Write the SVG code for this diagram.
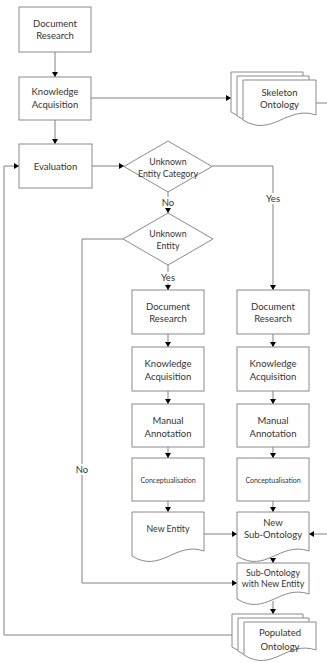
<svg xmlns="http://www.w3.org/2000/svg" width="327" height="663" viewBox="0 0 327 663">
<style>
.box{fill:#fff;stroke:#8a8a8a;stroke-width:1}
.ln{fill:none;stroke:#808080;stroke-width:1}
text{font-family:Lato,"Liberation Sans",sans-serif;font-size:9.5px;fill:#333;text-anchor:middle}
.sm{font-size:7px}
.s9{font-size:8.8px}
.lbl{fill:#fff;stroke:none}
</style>
<defs>
<marker id="ah" markerWidth="6" markerHeight="6" refX="5" refY="3" orient="auto" markerUnits="userSpaceOnUse">
<path d="M0,0 L5,3 L0,6 Z" fill="#000"/>
</marker>
</defs>
<g id="connectors">
<path class="ln" d="M55,52 V77" marker-end="url(#ah)"/>
<path class="ln" d="M91,98 H231" marker-end="url(#ah)"/>
<path class="ln" d="M316,103 H327"/>
<path class="ln" d="M55,120 V144" marker-end="url(#ah)"/>
<path class="ln" d="M92,166 H124" marker-end="url(#ah)"/>
<path class="ln" d="M212,166 H273 V290" marker-end="url(#ah)"/>
<path class="ln" d="M168,192 V213" marker-end="url(#ah)"/>
<path class="ln" d="M168,265 V290" marker-end="url(#ah)"/>
<path class="ln" d="M123,239 H82 V583 H237" marker-end="url(#ah)"/>
<path class="ln" d="M232,635 H4 V166 H19" marker-end="url(#ah)"/>
<path class="ln" d="M168,334 V347" marker-end="url(#ah)"/>
<path class="ln" d="M168,391 V404" marker-end="url(#ah)"/>
<path class="ln" d="M168,447 V458" marker-end="url(#ah)"/>
<path class="ln" d="M168,501 V512" marker-end="url(#ah)"/>
<path class="ln" d="M273,334 V347" marker-end="url(#ah)"/>
<path class="ln" d="M273,391 V404" marker-end="url(#ah)"/>
<path class="ln" d="M273,447 V458" marker-end="url(#ah)"/>
<path class="ln" d="M273,501 V512" marker-end="url(#ah)"/>
<path class="ln" d="M204,534 H237" marker-end="url(#ah)"/>
<path class="ln" d="M327,534 H309" marker-end="url(#ah)"/>
<path class="ln" d="M273,559 V563" marker-end="url(#ah)"/>
<path class="ln" d="M273,601 V614" marker-end="url(#ah)"/>
<rect class="lbl" x="160" y="197" width="16" height="11"/>
<text x="168" y="205.5">No</text>
<rect class="lbl" x="158" y="272" width="20" height="11"/>
<text x="168" y="280.5">Yes</text>
<rect class="lbl" x="263" y="193" width="20" height="11"/>
<text x="273" y="201.5">Yes</text>
<rect class="lbl" x="74" y="464" width="16" height="11"/>
<text x="82" y="472.5">No</text>
</g>
<g id="doc-research-1">
<rect class="box" x="19" y="7" width="72" height="45"/>
<text x="55" y="26.5">Document</text>
<text x="55" y="38.5">Research</text>
</g>
<g id="knowledge-acq-1">
<rect class="box" x="19" y="77" width="72" height="43"/>
<text x="55" y="94.5">Knowledge</text>
<text x="55" y="108">Acquisition</text>
</g>
<g id="skeleton-ontology">
<path class="box" d="M231,72 H303 V107 C274,97 260,130 231,112 Z"/>
<path class="box" d="M237,76 H309 V111 C280,101 266,134 237,116 Z"/>
<path class="box" d="M243,80 H316 V115 C287,105 272,138 243,120 Z"/>
<text x="279.5" y="95.5">Skeleton</text>
<text x="279.5" y="107.5">Ontology</text>
</g>
<g id="evaluation">
<rect class="box" x="19" y="144" width="73" height="44"/>
<text x="55.5" y="169.5">Evaluation</text>
</g>
<g id="unknown-entity-category">
<path class="box" d="M168,141 L212,166.5 L168,192 L124,166.5 Z"/>
<text class="s9" x="168" y="165">Unknown</text>
<text class="s9" x="168" y="176.5">Entity Category</text>
</g>
<g id="unknown-entity">
<path class="box" d="M168,213 L213,239 L168,265 L123,239 Z"/>
<text class="s9" x="168" y="236.5">Unknown</text>
<text class="s9" x="168" y="248.5">Entity</text>
</g>
<g id="doc-research-2">
<rect class="box" x="132" y="290" width="72" height="44"/>
<text x="168" y="309.5">Document</text>
<text x="168" y="321.5">Research</text>
</g>
<g id="knowledge-acq-2">
<rect class="box" x="132" y="347" width="72" height="44"/>
<text x="168" y="366.5">Knowledge</text>
<text x="168" y="379.5">Acquisition</text>
</g>
<g id="manual-annotation-2">
<rect class="box" x="132" y="404" width="72" height="43"/>
<text x="168" y="423.5">Manual</text>
<text x="168" y="436.5">Annotation</text>
</g>
<g id="conceptualisation-2">
<rect class="box" x="132" y="458" width="72" height="43"/>
<text class="sm" x="168" y="482.5">Conceptualisation</text>
</g>
<g id="new-entity">
<path class="box" d="M132,512 H204 V551 C175,541 161,574 132,556 Z"/>
<text class="s9" x="168" y="531.5">New Entity</text>
</g>
<g id="doc-research-3">
<rect class="box" x="237" y="290" width="72" height="44"/>
<text x="273" y="309.5">Document</text>
<text x="273" y="321.5">Research</text>
</g>
<g id="knowledge-acq-3">
<rect class="box" x="237" y="347" width="72" height="44"/>
<text x="273" y="366.5">Knowledge</text>
<text x="273" y="379.5">Acquisition</text>
</g>
<g id="manual-annotation-3">
<rect class="box" x="237" y="404" width="72" height="43"/>
<text x="273" y="423.5">Manual</text>
<text x="273" y="436.5">Annotation</text>
</g>
<g id="conceptualisation-3">
<rect class="box" x="237" y="458" width="72" height="43"/>
<text class="sm" x="273" y="482.5">Conceptualisation</text>
</g>
<g id="new-sub-ontology">
<path class="box" d="M237,512 H309 V551 C280,541 266,574 237,556 Z"/>
<text x="273" y="525.5">New</text>
<text x="273" y="537.5">Sub-Ontology</text>
</g>
<g id="sub-ontology-with-new-entity">
<path class="box" d="M237,563 H309 V594 C280,584 266,617 237,599 Z"/>
<text class="s9" x="273" y="575.5">Sub-Ontology</text>
<text class="s9" x="273" y="586.5">with New Entity</text>
</g>
<g id="populated-ontology">
<path class="box" d="M232,614 H303 V642 C274,632 260,665 232,647 Z"/>
<path class="box" d="M238,618 H309 V646 C280,636 266,669 238,651 Z"/>
<path class="box" d="M244,622 H316 V650 C287,640 273,673 244,655 Z"/>
<text x="280" y="635.5">Populated</text>
<text x="280" y="649.5">Ontology</text>
</g>
</svg>
